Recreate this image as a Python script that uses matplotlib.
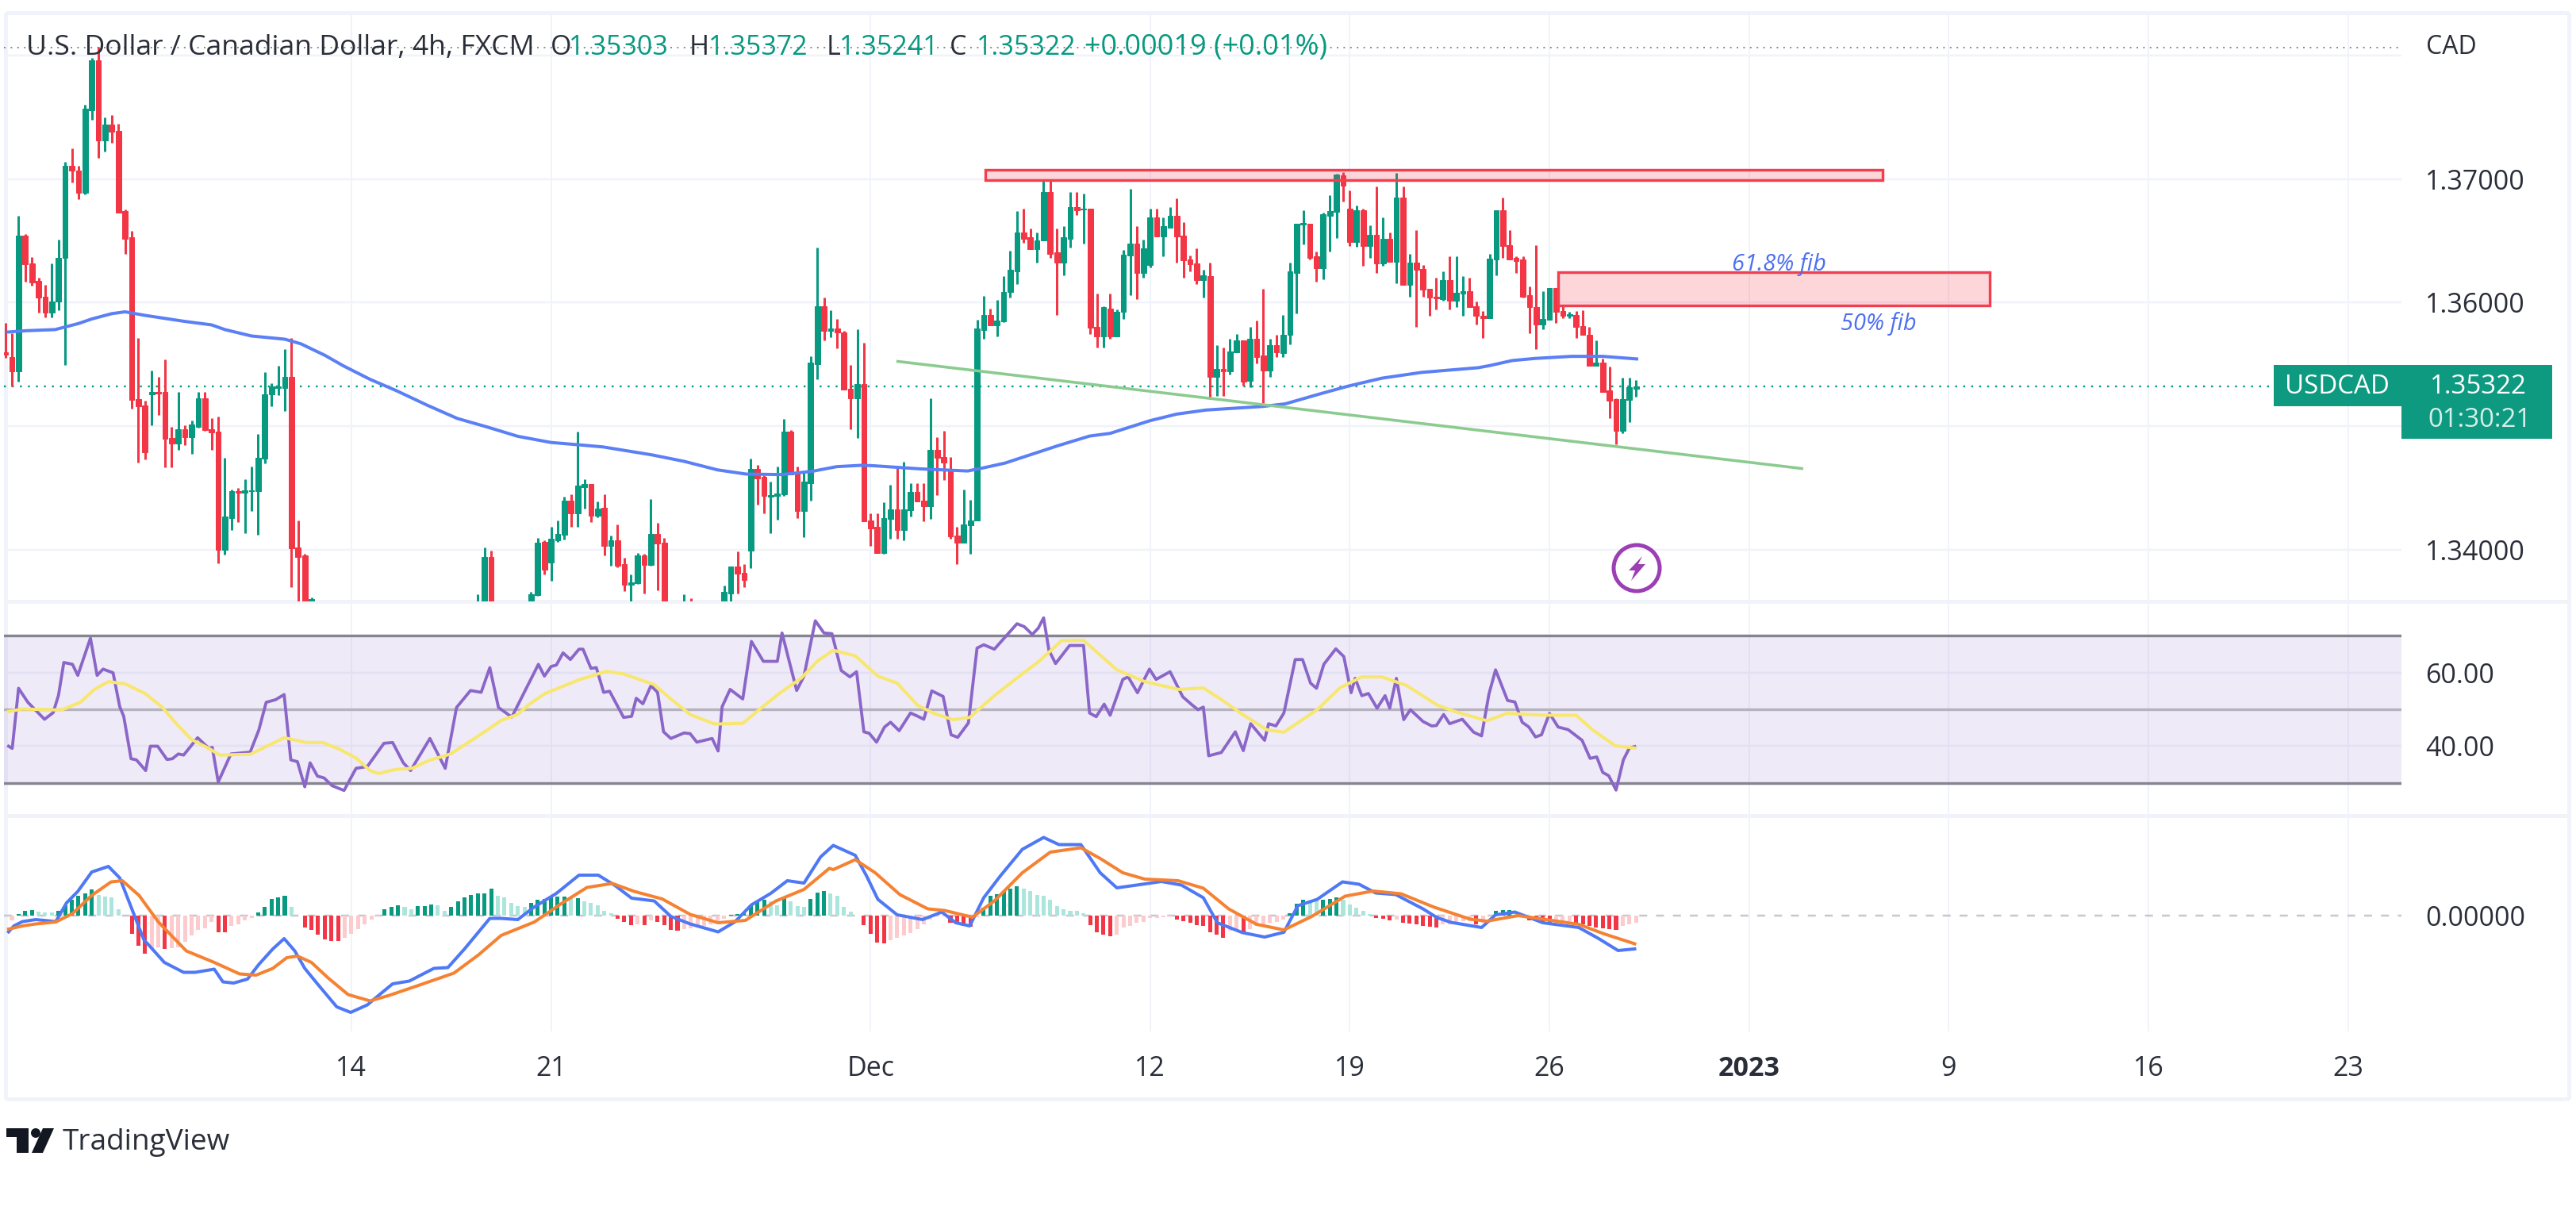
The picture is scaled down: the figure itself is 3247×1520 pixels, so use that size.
import numpy as np
import matplotlib
matplotlib.use("Agg")
import matplotlib.pyplot as plt
from matplotlib.patches import Circle, Polygon, Rectangle

plt.rcParams['font.family'] = ['Open Sans', 'DejaVu Sans']

nan = float('nan')

# candles, bar -1 is the half cut one at the left edge; nan = bar sits below the visible price range
opens = [1.3560,1.35557,1.35445,1.36545,1.3632,1.36176,1.3605,1.35917,1.36012,1.36366,
    1.37107,1.37072,1.36891,1.37559,1.37962,1.37317,1.37444,1.37395,1.36741,1.36531,
    1.3522,1.35168,1.35255,1.35278,1.35278,1.34903,1.3486,1.34972,1.34912,1.34996,
    1.35226,1.34972,1.34955,1.33996,1.34255,1.34471,1.34457,1.34471,1.34471,1.34736,
    1.35255,1.35307,1.35307,1.35399,1.34016,1.33953,1.335] + [nan]*24 + [
    1.3345,1.335,1.3394] + [nan]*5 + [
    1.335,1.33628,1.34062,1.33891,1.34077,1.34119,1.34393,1.34293,1.34504,1.34532,
    1.34275,1.34337,1.3403,1.34077,1.33884,1.33713,1.3373,1.33955,1.33874,1.34126,1.34057] + [nan]*2 + [
    1.3345,1.335] + [nan]*4 + [
    1.3352,1.33645,1.33865,1.33812,1.33993,1.34654,1.3459,1.34429,1.34436,1.34446,
    1.34953,1.34617,1.34312,1.34538,1.35504,1.35974,1.35771,1.35793,1.35761,1.35301,
    1.35222,1.35338,1.34233,1.34186,1.33971,1.3425,1.34325,1.3416,1.34319,1.34469,
    1.34396,1.34353,1.34804,1.34748,1.34647,1.34111,1.34053,1.34196,1.34233,1.35777,
    1.35897,1.35816,1.35848,1.36084,1.36256,1.36567,1.36528,1.36432,1.36502,1.36899,
    1.36406,1.36326,1.3652,1.36777,1.36755,1.3676,1.35805,1.35726,1.35949,1.35726,
    1.35923,1.36384,1.36477,1.36241,1.36305,1.36691,1.36539,1.3661,1.36706,1.36545,
    1.36352,1.36316,1.36185,1.36218,1.35398,1.35463,1.35441,1.35597,1.35692,1.35366,
    1.35705,1.3557,1.35452,1.35655,1.35591,1.35737,1.36244,1.36636,1.3664,1.36379,
    1.3628,1.36704,1.36736,1.3703,1.36764,1.3649,1.36751,1.36458,1.3655,1.36315,
    1.36516,1.3633,1.36854,1.36143,1.36323,1.36276,1.36111,1.36045,1.3603,1.36186,
    1.36019,1.36073,1.36094,1.35972,1.35895,1.35876,1.36351,1.36747,1.36465,1.36362,
    1.36351,1.36062,1.35966,1.35822,1.35859,1.36116,1.35934,1.35891,1.35902,1.35809,
    1.35741,1.35488,1.35516,1.35287,1.35216,1.34959,1.3521,1.35303]
highs = [1.35839,1.35753,1.36703,1.36559,1.36372,1.36205,1.36142,1.36315,1.36508,1.37144,
    1.37251,1.37107,1.37605,1.37985,1.38071,1.37501,1.37518,1.37452,1.36755,1.3658,
    1.35716,1.35206,1.35451,1.35399,1.35537,1.34996,1.35278,1.35004,1.35047,1.35278,
    1.35278,1.35062,1.35076,1.34745,1.34486,1.345,1.34572,1.34673,1.34938,1.35436,
    1.3535,1.35488,1.35623,1.35716,1.34232,1.33967,1.3361] + [nan]*24 + [
    1.33639,1.34019,1.33991] + [nan]*5 + [
    1.33656,1.34094,1.34077,1.34184,1.34233,1.34425,1.34446,1.34953,1.34568,1.34532,
    1.34389,1.34446,1.34111,1.34201,1.33933,1.33795,1.3397,1.33966,1.3441,1.34216,1.34094] + [nan]*2 + [
    1.33639,1.33602] + [nan]*4 + [
    1.33709,1.33865,1.33987,1.33884,1.34739,1.34688,1.34602,1.34547,1.34671,1.3506,
    1.3497,1.34671,1.34632,1.35568,1.36444,1.36043,1.35936,1.35868,1.35771,1.35498,
    1.35782,1.35675,1.3429,1.34293,1.34383,1.34523,1.34679,1.34711,1.3454,1.3454,
    1.3454,1.35226,1.34911,1.34962,1.34748,1.34186,1.34486,1.344,1.35859,1.36052,
    1.35949,1.3602,1.36213,1.36423,1.36743,1.3676,1.36599,1.36567,1.37,1.37,
    1.36599,1.3662,1.36899,1.36899,1.36884,1.3676,1.36073,1.3597,1.36073,1.35945,
    1.36427,1.36921,1.3662,1.36513,1.3676,1.3676,1.36691,1.36777,1.36846,1.36653,
    1.36384,1.36442,1.36266,1.36323,1.35655,1.35638,1.35709,1.35745,1.35692,1.35801,
    1.35852,1.36111,1.35709,1.35741,1.35902,1.36323,1.3664,1.36747,1.3664,1.36415,
    1.3673,1.36871,1.37047,1.37058,1.36908,1.36786,1.36764,1.36629,1.3694,1.36694,
    1.36572,1.37051,1.3694,1.36394,1.36587,1.36308,1.36111,1.36201,1.36255,1.36379,
    1.36379,1.36218,1.36201,1.36009,1.35934,1.36394,1.36747,1.36854,1.36587,1.36379,
    1.36379,1.36131,1.36465,1.36094,1.36116,1.36116,1.35987,1.35923,1.35934,1.35938,
    1.35805,1.35694,1.35548,1.35484,1.35227,1.35394,1.35394,1.35372]
lows = [1.35551,1.35321,1.35358,1.36171,1.36136,1.3592,1.35883,1.35883,1.3594,1.35494,
    1.36977,1.36839,1.36876,1.37481,1.37173,1.37222,1.37294,1.36732,1.36395,1.3514,
    1.34702,1.34731,1.35004,1.35091,1.34664,1.34664,1.34808,1.34846,1.34774,1.34984,
    1.34961,1.34808,1.3389,1.33959,1.34155,1.34224,1.34134,1.34313,1.3412,1.34696,
    1.35163,1.35249,1.35119,1.33694,1.3355,1.3345,1.3345] + [nan]*24 + [
    1.334,1.3345,1.334] + [nan]*5 + [
    1.3345,1.33624,1.33799,1.33748,1.34062,1.34083,1.34184,1.34184,1.34329,1.34222,
    1.3426,1.33955,1.33869,1.33854,1.33662,1.33581,1.3372,1.33645,1.33869,1.33666,1.3345] + [nan]*2 + [
    1.334,1.334] + [nan]*4 + [
    1.3345,1.335,1.33645,1.33692,1.33852,1.34361,1.34293,1.34132,1.34239,1.34436,
    1.34607,1.34254,1.34098,1.34397,1.3538,1.35697,1.35718,1.35628,1.35295,1.34974,
    1.34906,1.34226,1.3403,1.33971,1.33967,1.34085,1.34087,1.34072,1.34265,1.3439,
    1.34229,1.3425,1.34439,1.34565,1.34089,1.33881,1.34053,1.33967,1.34233,1.35709,
    1.35816,1.35726,1.35842,1.36041,1.36148,1.36485,1.36432,1.36326,1.36502,1.36363,
    1.35902,1.36219,1.36449,1.3671,1.36481,1.35747,1.35634,1.35634,1.35709,1.35726,
    1.35865,1.36063,1.36026,1.36202,1.36288,1.36539,1.36378,1.3661,1.36326,1.36202,
    1.36256,1.36148,1.36041,1.35216,1.35242,1.35242,1.3542,1.35597,1.3533,1.35317,
    1.35505,1.35189,1.35398,1.35559,1.35559,1.35662,1.35912,1.36473,1.36351,1.36173,
    1.36191,1.36415,1.36522,1.36822,1.36458,1.36452,1.36298,1.36366,1.36244,1.36298,
    1.3633,1.36158,1.36143,1.36051,1.35805,1.36051,1.35891,1.35944,1.36019,1.35944,
    1.35966,1.35891,1.35966,1.35822,1.35715,1.35876,1.36223,1.36362,1.36351,1.36244,
    1.36041,1.35752,1.35623,1.35784,1.35859,1.35837,1.35874,1.35874,1.35715,1.35737,
    1.35488,1.35488,1.35274,1.35067,1.34852,1.34944,1.35034,1.35241]
closes = [1.3558,1.35445,1.36545,1.36309,1.36165,1.36041,1.35917,1.36012,1.36366,1.37112,
    1.37069,1.36891,1.37573,1.37962,1.37317,1.37444,1.37386,1.36732,1.36516,1.35214,
    1.35163,1.34788,1.35278,1.35263,1.34895,1.3486,1.34972,1.34912,1.3501,1.35226,
    1.34967,1.34949,1.33996,1.34264,1.34471,1.34457,1.34477,1.34477,1.34745,1.35255,
    1.35321,1.35321,1.35399,1.34011,1.33939,1.335,1.336] + [nan]*24 + [
    1.335,1.3394,1.3345] + [nan]*5 + [
    1.33634,1.34057,1.33833,1.3409,1.34126,1.34393,1.34293,1.34517,1.34532,1.34275,
    1.34333,1.3403,1.34072,1.33869,1.33713,1.33735,1.33955,1.33876,1.34126,1.34047,1.335] + [nan]*2 + [
    1.335,1.3345] + [nan]*4 + [
    1.33656,1.33865,1.33805,1.33752,1.34654,1.34575,1.34431,1.3444,1.34453,1.34953,
    1.34611,1.34312,1.34547,1.35515,1.35974,1.35771,1.35793,1.35756,1.35295,1.35222,
    1.35338,1.34226,1.34169,1.33971,1.34254,1.34325,1.3416,1.34325,1.34469,1.3439,
    1.34353,1.34804,1.34743,1.34707,1.34104,1.34053,1.34203,1.34235,1.35788,1.35897,
    1.35816,1.35855,1.36088,1.36266,1.36567,1.36517,1.36432,1.36507,1.36899,1.36395,
    1.36326,1.36528,1.36777,1.36749,1.36764,1.35799,1.35726,1.35962,1.35726,1.35927,
    1.36391,1.36477,1.36241,1.36442,1.36691,1.36539,1.3662,1.36706,1.36539,1.36341,
    1.36309,1.36185,1.36224,1.35398,1.35463,1.35441,1.35602,1.35692,1.3536,1.35705,
    1.35559,1.35452,1.35655,1.35597,1.35741,1.36255,1.3664,1.36644,1.36362,1.3628,
    1.36715,1.36743,1.37036,1.36951,1.3649,1.36747,1.36458,1.3655,1.36315,1.36516,
    1.3633,1.36854,1.36143,1.36323,1.36265,1.36105,1.36041,1.36036,1.36186,1.36019,
    1.36079,1.3609,1.35966,1.35891,1.35876,1.36358,1.36747,1.36458,1.36351,1.3634,
    1.36045,1.35966,1.35822,1.35865,1.36116,1.35929,1.35891,1.35908,1.35805,1.35737,
    1.35488,1.35516,1.35274,1.35206,1.34959,1.35216,1.35317,1.35322]

sma_bars = [-0.6,2.2,6.5,10,12,15,17,20,26,30,32,36,41,43.4,47,49.8,53.8,57.8,62.4,66.9,71.5,76,81,85.2,88.8,
    96.1,101,106,110.3,115.7,120.3,123.9,127.6,129.3,136.5,143.6,146,149.2,157.1,161.9,165,171,175,179.4,
    187.9,191.3,196.4,200.7,205.8,211.8,220.3,222,225.4,228.8,234.3,239,244.1]
sma_vals = [1.35762,1.35773,1.35782,1.35831,1.35868,1.35911,1.35926,1.35897,1.35848,1.3582,1.35782,1.3573,
    1.35704,1.35667,1.35574,1.35488,1.35379,1.35286,1.35169,1.35062,1.34991,1.34917,1.34867,1.34848,1.34831,
    1.34767,1.34714,1.34645,1.34611,1.34607,1.34634,1.34671,1.34682,1.34679,1.34653,1.34636,1.34662,1.347,
    1.3484,1.34919,1.34941,1.35044,1.35097,1.3513,1.35159,1.3518,1.35259,1.35323,1.35388,1.35435,1.35473,
    1.3549,1.35531,1.35548,1.35565,1.35565,1.35544]

rsi_bars = [-0.5,0.05,1,2.4,4.9,6.2,7,7.8,9.1,9.9,11.8,12.8,13.7,15.2,16.2,16.8,17.9,18.7,20.1,20.8,21.9,23.3,24.1,25,25.8,
    27.9,29.6,30.1,31,32.9,35.8,37.1,38.2,39.6,40.9,41.9,42.9,44,44.8,45.9,46.9,48.1,49.9,51.7,53.4,55.9,57.2,58.8,59.9,
    62.8,65.1,66.8,68.9,70.5,71.8,73.1,75.1,77.2,79.1,80,81,81.8,82.8,83.9,85.2,85.8,87,87.8,88.9,89.8,91.9,93.1,93.8,
    94.8,96,97,97.9,99,101,101.9,102.9,105.2,106.1,106.7,107.9,109.8,111.1,112.9,115,115.7,117.9,119,120.7,122,123.2,
    124.6,125.9,126.9,128,128.8,129.9,131.1,132,133.3,135,136,137,138.2,139.9,141.1,142.1,143.7,145,146,147.6,151,152.1,
    153.3,154.2,155,155.8,156.8,158.9,161,161.9,162.9,164.1,165,166.9,167.7,169.1,170.9,171.9,174,175.9,177.3,178.2,179,
    179.8,181.7,183.8,185,186.1,188.2,188.8,189.9,191.1,192.8,193.9,195.1,196,197.1,198.9,200.1,201.2,201.8,202.8,203.8,
    205.1,206.3,207,208,209.1,210.1,212,213.3,214,215.1,216,217.9,219.6,220.8,221.9,222.9,224.7,225.8,226.9,227.9,228.9,
    229.8,231,232.3,233.8,235.9,237.1,238.1,239,239.9,241,242.1,243,243.8]
rsi_vals = [40,39.4,55.7,51.9,47.3,49.1,53.8,62.7,62.2,59.2,69.3,59.2,60.9,59.9,50.7,48.1,36.6,36.3,33.4,40,40,36.4,36.6,37.9,37.6,
    42.3,39.4,39.7,30.3,37.9,38.4,44.4,51.9,52.6,54,36.3,35.8,29,35.5,31.9,31.4,29.3,28,34,34.5,40.8,41,35.5,33.4,
    42.1,34,50.5,55.1,54.6,61.3,50.5,47.9,55.4,62.2,59,61.6,62,65.3,63.5,66.3,66.3,61.1,61.3,54.6,54.9,47.8,48.1,53,
    51.5,56.4,54.6,43.9,42.1,43.6,43.4,41.1,42.1,38.7,50.7,55.4,52.8,68.4,63,63,70.7,55.1,59,74,70.7,70.5,
    60.5,58.8,60.2,43.9,43.5,41.1,45.2,46.5,44.2,49,48.2,47.3,55,53.5,43.1,42.4,46.3,66.6,67.5,66.3,73.2,72.4,
    70.3,72,74.8,66,62.4,67.3,67.3,49,48,51.4,48.4,58.1,58.8,54.5,60.9,58.1,60.2,53.4,51.2,49.9,50.6,
    37.4,38.3,43.9,38.8,46.1,41.6,46.1,45.5,49,63.5,63.5,57.1,55.7,62.2,66.4,64.3,54.5,58.4,53.7,54.3,
    50.3,53.7,50.3,58.4,47.2,49.9,46.7,45.5,45.6,48.6,46.1,47.3,43.8,42.8,54.1,60.7,52.4,52,46.5,45.2,42.5,
    43.1,48.9,45.2,44.5,41.6,36.7,37.1,32.9,32,28.1,36.3,39.5,39.9]
rsi_ma_bars = [-0.5,1.6,7.4,10.3,12.4,14.5,17,20,22.5,25,27,29.6,31.2,35.8,38.3,40.9,44.2,46.7,49.2,51.7,53.8,55.1,57.6,60.1,
    62.6,65.9,68.4,71,73.5,76,77.6,80.1,85.2,89.3,91.9,96.5,99,101.9,105.6,109.8,112.8,115.3,118.6,121.1,123.4,126.7,130.1,
    133,136,138.5,141.4,143.9,147.6,151.8,154.3,157.7,161,163.5,166,170.2,175.3,179,181.9,184.9,188.6,191.1,196.1,199.5,
    202.8,205.8,209.5,214.1,216.6,221.6,224.6,230.4,235,237.5,240.9,243.8]
rsi_ma_vals = [49.4,50.1,49.8,51.9,55.4,57.5,56.9,54.3,50.7,45.5,41.8,39.4,37.6,37.8,40,42.3,41,41,39.2,36.8,33.4,32.6,33.7,34,
    36.1,37.9,40.8,43.9,47,48.6,51.2,54.3,58,60.3,59.6,56.7,52.8,48.6,46,46.2,50.7,54.3,58.5,63.2,66,64.5,59,
    57.1,51.2,48.9,47.2,47.8,53.7,59.6,63,68.6,68.7,64.7,60.7,57.5,55.4,55.8,52.4,48.6,44.4,43.8,49.9,55.8,
    58.8,58.8,56.5,51.2,49.5,46.9,48.9,48.4,48.4,44.4,40.1,39.5]

# MACD values in 1e-5 price units
macd_bars = [-0.5,0.3,1.6,3.6,6.6,8.2,9.9,12,14.5,16.2,17.9,19.8,22.9,25.8,27.5,30.4,31.7,33.3,35.4,37.1,39.2,40.9,42.5,44,45.9,
    48.8,50.9,53.4,55.1,57.2,59.7,63.4,65.5,68,71.8,73.5,76,78.5,81.8,85.2,88.1,90.6,93.1,96.5,99,101.9,106.1,108.6,111.1,114,
    116.5,119,121.5,123.4,126.7,128.4,130.1,133,136.8,139.7,141.8,143.9,146,148.5,151.8,155,157.3,160.6,163.5,166,169,172.7,
    175.7,179,181.1,184.9,188.2,191.1,193.2,196.1,199.9,202.4,204.9,207.9,212,214.1,216.2,220.8,222.9,225.8,230,235.4,238.4,241.3,243.8]
macd_vals = [-41,-26,-15,-10,-15,32,61,110,124,95,22,-60,-118,-143,-143,-135,-167,-170,-160,-123,-84,-58,-89,-133,-172,
    -230,-244,-225,-201,-172,-165,-133,-131,-84,-7,-7,-10,22,56,102,102,76,44,37,-2,-21,-41,-16,27,56,
    88,82,148,177,152,100,41,2,-10,9,-18,-26,45,100,167,197,179,179,108,70,77,86,
    77,45,-18,-43,-54,-42,25,41,85,79,57,53,17,-5,-17,-30,2,9,-18,-30,-58,-88,-84]
signal_bars = [-0.5,1.6,3.6,6.6,9.1,12,14.9,16.6,19.1,22,26.2,30.4,34.2,36.7,39.2,41.3,42.9,45,47.5,50.5,53.8,56.7,60.9,66.4,70.1,
    73.5,78.5,82.7,86.4,90.2,93.5,97.7,101.9,106.1,110.2,114.8,119,122.8,123.4,126.7,129.7,133.4,137.6,140.1,144.3,147.6,
    151.8,156,160.6,163.5,166.9,170.2,175.2,179,182.8,187,191.1,195.3,200.3,204.5,208.7,213.7,219.1,221.6,226.3,231.3,235.4,239.2,243.8]
signal_vals = [-34,-26,-21,-16,5,51,85,88,51,-16,-89,-118,-147,-150,-133,-106,-102,-118,-157,-199,-215,-201,-177,-145,-99,
    -50,-16,32,71,81,61,42,3,-18,-12,37,66,119,116,141,108,53,17,13,-4,37,
    108,160,171,144,108,92,88,69,17,-22,-36,-2,49,62,55,21,-9,-14,0,-12,-22,-46,-71]
hist_vals = [-12,5,13,14,11,9,8,13,27,40,51,56,66,52,49,46,17,1,-46,-75,-96,-82,-80,-84,-81,-79,-65,-50,-36,-31,-16,-41,-42,-26,-21,
    -12,-5,8,22,42,47,51,22,1,-29,-36,-48,-60,-63,-64,-55,-46,-34,-21,-9,-2,17,22,27,22,17,24,25,29,27,13,22,37,47,53,56,57,68,51,
    46,32,24,23,32,40,42,47,48,49,44,45,37,32,27,13,6,-7,-16,-24,-21,-24,-12,-16,-24,-36,-37,-34,-31,-30,-26,-21,-16,-7,3,4,8,27,37,
    40,37,27,46,37,24,23,42,59,63,56,51,22,10,1,-24,-46,-67,-70,-62,-56,-50,-43,-34,-22,-10,-2,-1,-18,-20,-26,-27,-3,21,51,55,62,69,
    74,69,62,53,51,41,25,17,13,12,6,-24,-42,-48,-51,-48,-30,-26,-18,-16,-6,-5,-3,-2,-9,-14,-18,-24,-26,-42,-48,-56,-38,-34,-43,-34,
    -26,-22,-18,-16,-10,7,31,41,39,38,41,42,47,41,29,21,13,5,-6,-7,-12,-9,-18,-20,-22,-26,-28,-29,-22,-21,-17,-14,-13,-22,-18,-2,13,
    14,15,9,-2,-12,-14,-18,-19,-17,-16,-14,-20,-22,-25,-30,-32,-34,-36,-26,-22,-18]

date_bars = [51,81,129,171,201,231,261,291,321,351]
date_labels = ['14','21','Dec','12','19','26','2023','9','16','23']
price_ticks = [1.34,1.35,1.36,1.37,1.38]
last_price = 1.35322

# drawings: left bar, right bar, top price, bottom price
resistance_box = (146.2,281,1.37077,1.36994)
fib_box = (232.3,297.1,1.36248,1.35978)
trend_bars = [133.1,268.9]
trend_prices = [1.35524,1.34656]

W, H = 3248, 1520
GREEN, RED = '#089981', '#f23645'
GRID = '#f0f3fa'
TEXT = '#2a2e39'
PX = 0.72  # one image pixel in points at dpi 100

fig = plt.figure(figsize=(W/100, H/100), dpi=100, facecolor='white')

# overlay in image pixels for the chart frame and the logo
back = fig.add_axes([0, 0, 1, 1], zorder=0)
back.set_xlim(0, W)
back.set_ylim(H, 0)
back.axis('off')
for x0, y0, x1, y1 in [(7, 16, 3238, 16), (7, 1385, 3238, 1385), (7, 16, 7, 1385), (3238, 16, 3238, 1385),
                       (7, 758, 3238, 758), (7, 1028, 3238, 1028)]:
    back.plot([x0, x1], [y0, y1], color=GRID, lw=5*PX, solid_capstyle='butt')


def pane(top, bottom, ymin, ymax):
    ax = fig.add_axes([5/W, 1-bottom/H, (3027-5)/W, (bottom-top)/H], zorder=1)
    ax.patch.set_alpha(0)
    ax.set_xlim((5-15)/8.39, (3027-15)/8.39)
    ax.set_ylim(ymin, ymax)
    for s in ax.spines.values():
        s.set_visible(False)
    ax.set_xticks(date_bars)
    ax.xaxis.grid(True, color=GRID, lw=2*PX)
    ax.yaxis.grid(True, color=GRID, lw=2.5*PX)
    ax.set_axisbelow(True)
    ax.yaxis.tick_right()
    ax.tick_params(length=0, labelbottom=False, labelsize=34*PX, labelcolor=TEXT, pad=30*PX)
    return ax


ax1 = pane(16, 758, 1.33579, 1.38350)
ax2 = pane(758, 1028, 21.18, 79.25)
ax3 = pane(1028, 1300, -292, 252)

# candles
bars = np.arange(-1, len(opens)-1)
o, h, l, c = map(np.array, (opens, highs, lows, closes))
keep = ~np.isnan(o)
up = c >= o
col = np.where(up, GREEN, RED)
ax1.vlines(bars[keep], l[keep], h[keep], colors=col[keep], lw=3*PX, zorder=3)
ax1.bar(bars[keep], np.abs(c-o)[keep], bottom=np.minimum(o, c)[keep], width=0.8, color=col[keep],
        edgecolor=col[keep], lw=1*PX, zorder=3)
ax1.plot(sma_bars, sma_vals, color='#5b7ff5', lw=4*PX, zorder=4, solid_joinstyle='round')
ax1.plot(trend_bars, trend_prices, color='#8ccb90', lw=3.6*PX, zorder=4)
ax1.axhline(last_price, color=GREEN, lw=2.4*PX, ls=(0, (1, 3.2)), zorder=2)
ax1.axhline(1.38068, color='#8a8d96', lw=2*PX, ls=(0, (1, 3.2)), zorder=2)
for x0, x1, top_p, bot_p in (resistance_box, fib_box):
    ax1.add_patch(Rectangle((x0, bot_p), x1-x0, top_p-bot_p, facecolor='#f23645', alpha=0.2, lw=0, zorder=5))
    ax1.add_patch(Rectangle((x0, bot_p), x1-x0, top_p-bot_p, fill=False, edgecolor='#f23f50', lw=3.4*PX, zorder=5))
ax1.text(258.4, 1.36310, '61.8% fib', color='#4d6ff0', style='italic', fontsize=29*PX, ha='left', va='center', zorder=6)
ax1.text(274.7, 1.35830, '50% fib', color='#4d6ff0', style='italic', fontsize=29*PX, ha='left', va='center', zorder=6)
ax1.set_yticks(price_ticks)
ax1.set_yticklabels(['1.34000', '', '1.36000', '1.37000', ''])

# RSI
ax2.axhspan(30, 70, color='#7e57c2', alpha=0.12, lw=0, zorder=1)
ax2.axhline(70, color='#85858f', lw=3.4*PX, zorder=2)
ax2.axhline(50, color='#b5b3bf', lw=3.4*PX, zorder=2)
ax2.axhline(30, color='#85858f', lw=3.4*PX, zorder=2)
ax2.plot(rsi_bars, rsi_vals, color='#8a66c8', lw=3.8*PX, zorder=3, solid_joinstyle='round')
ax2.plot(rsi_ma_bars, rsi_ma_vals, color='#f8e76e', lw=4*PX, zorder=4, solid_joinstyle='round')
ax2.set_yticks([40, 60])
ax2.set_yticklabels(['40.00', '60.00'])

# MACD
hist = np.array(hist_vals)
prev = np.concatenate(([hist[0]], hist[:-1]))
hist_cols = np.where(hist >= 0, np.where(hist > prev, GREEN, '#ace5dc'), np.where(hist < prev, RED, '#fccbcd'))
ax3.bar(np.arange(len(hist)), hist, width=0.6, color=hist_cols, zorder=2)
ax3.axhline(0, color='#c6c7d1', lw=2.5*PX, ls=(0, (4, 4.5)), zorder=1)
ax3.plot(macd_bars, macd_vals, color='#4f78f5', lw=4*PX, zorder=3, solid_joinstyle='round')
ax3.plot(signal_bars, signal_vals, color='#f58232', lw=4*PX, zorder=4, solid_joinstyle='round')
ax3.set_yticks([0])
ax3.set_yticklabels(['0.00000'])
ax3.yaxis.grid(False)
ax3.tick_params(axis='x', labelbottom=True, pad=30*PX)
ax3.set_xticklabels(date_labels)
for lab in ax3.get_xticklabels():
    if lab.get_text() == '2023':
        lab.set_fontweight('bold')

# overlay in image pixels for everything that sits on top of the panes
top = fig.add_axes([0, 0, 1, 1], zorder=2)
top.set_xlim(0, W)
top.set_ylim(H, 0)
top.axis('off')
top.patch.set_alpha(0)

# x, text, colour, size
header = [(33, 'U.S. Dollar / Canadian Dollar, 4h, FXCM', TEXT, 35.5), (694, 'O', TEXT, 34), (717, '1.35303', GREEN, 34),
          (869, 'H', TEXT, 34), (893, '1.35372', GREEN, 34), (1042, 'L', TEXT, 34), (1058, '1.35241', GREEN, 34),
          (1197, 'C', TEXT, 34), (1231, '1.35322', GREEN, 34), (1367, '+0.00019 (+0.01%)', GREEN, 36)]
for x, s, color, size in header:
    top.text(x, 60, s, color=color, fontsize=size*PX, ha='left', va='center')
top.text(3058, 60, 'CAD', color=TEXT, fontsize=32*PX, ha='left', va='center')

top.add_patch(Rectangle((2866, 460), 3217-2866, 52, facecolor='#0e9a80', lw=0))
top.add_patch(Rectangle((3027, 510), 3217-3027, 43, facecolor='#0e9a80', lw=0))
top.text(2880, 487, 'USDCAD', color='white', fontsize=33*PX, ha='left', va='center')
top.text(3062, 487, '1.35322', color='white', fontsize=33*PX, ha='left', va='center')
top.text(3060, 530, '01:30:21', color='#d4efe9', fontsize=33*PX, ha='left', va='center')

# lightning badge
top.add_patch(Circle((2063, 716), 29, fill=False, edgecolor='#9c3fb5', lw=5*PX))
top.add_patch(Polygon([(2070, 701), (2053, 719), (2061, 719), (2056, 732), (2074, 711), (2065, 711)],
                      closed=True, facecolor='#9c3fb5', lw=0))

# TradingView logo
top.add_patch(Rectangle((8, 1422), 28, 11, facecolor='#131722', lw=0))
top.add_patch(Rectangle((21, 1433), 15, 20, facecolor='#131722', lw=0))
top.add_patch(Circle((45, 1428), 6, facecolor='#131722', lw=0))
top.add_patch(Polygon([(54, 1422), (68, 1422), (54, 1453), (40, 1453)], closed=True, facecolor='#131722', lw=0))
top.text(79, 1440, 'TradingView', color=TEXT, fontsize=37*PX, ha='left', va='center')

fig.savefig('out.png', dpi=100)
